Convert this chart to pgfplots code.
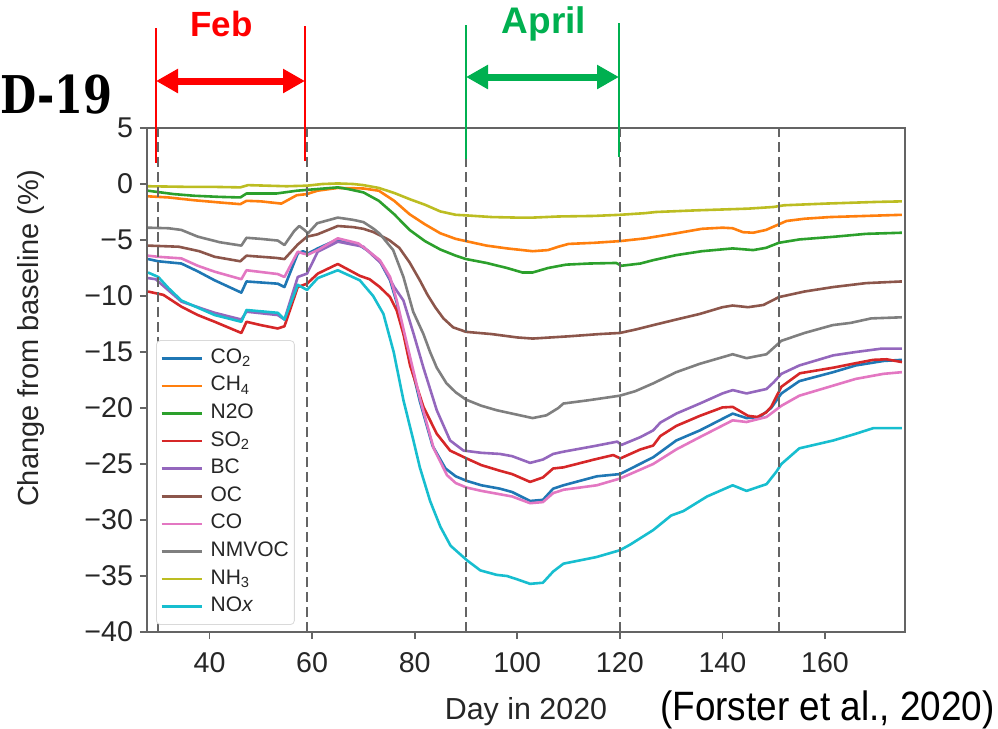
\documentclass[border=0pt]{standalone}
\usepackage{fontspec}
\setmainfont{Liberation Sans}
\newfontfamily\slabfont[FakeStretch=0.8]{DejaVu Serif}
\newfontfamily\narrowfont[FakeStretch=0.9]{Liberation Sans}
\usepackage{pgfplots}
\pgfplotsset{compat=1.18}
\usetikzlibrary{arrows.meta}

\definecolor{cCOtwo}{HTML}{1F77B4}
\definecolor{cCH}{HTML}{FF7F0E}
\definecolor{cNtwoO}{HTML}{2CA02C}
\definecolor{cSO}{HTML}{D62728}
\definecolor{cBC}{HTML}{9467BD}
\definecolor{cOC}{HTML}{8C564B}
\definecolor{cCO}{HTML}{E377C2}
\definecolor{cNMVOC}{HTML}{7F7F7F}
\definecolor{cNH}{HTML}{BCBD22}
\definecolor{cNOx}{HTML}{17BECF}
\definecolor{textgray}{RGB}{38,38,38}
\definecolor{framegray}{RGB}{100,100,100}
\definecolor{annred}{RGB}{255,0,0}
\definecolor{anngreen}{RGB}{0,176,80}

\begin{document}
\begin{tikzpicture}
\begin{axis}[
    at={(73.5pt,-316pt)}, anchor=south west,
    scale only axis, width=379pt, height=252pt,
    xmin=27.8, xmax=175.6, ymin=-40, ymax=5,
    xtick={40,60,...,160},
    ytick={-40,-35,...,5},
    yticklabels={−40,−35,−30,−25,−20,−15,−10,−5,0,5},
    xtick pos=bottom, ytick pos=left,
    tick align=outside, major tick length=3.5pt,
    tick style={framegray, line width=0.9pt},
    axis line style={framegray, line width=0.9pt},
    /pgf/number format/assume math mode=true,
    ticklabel style={font=\fontsize{14.3}{16}\selectfont, text=textgray},
    xticklabel style={yshift=-3pt},
    legend cell align=left,
    legend image code/.code={\draw[#1] (0pt,0pt) -- (20pt,0pt);},
    legend style={at={(0.0119,0.579)}, anchor=north west,
        draw=black!15, fill=white, rounded corners=2pt,
        font=\fontsize{10.5}{12}\selectfont, text=textgray,
        inner sep=2pt, row sep=0pt,
        nodes={inner sep=0.8pt, text height=8.6pt, text depth=3.6pt},
        /tikz/every odd column/.append style={column sep=3pt}},
    every axis plot/.append style={line width=1.3pt, line join=round}
]

% CO2
\addplot[cCOtwo] coordinates {
(28,-6.7) (30,-6.9) (34.5,-7.1) (37.7,-7.8) (41,-8.6) (46.2,-9.7) (47.2,-8.7)
(53.3,-8.9) (54.6,-9.2) (57.2,-6.2) (58.2,-6.0) (59.2,-6.2) (61.1,-5.75) (65,-4.94)
(69,-5.4) (71,-6.0) (73.2,-6.9) (75.2,-8.6) (76.5,-10.6) (78.3,-14.2) (81,-19.4)
(83.5,-23.4) (86,-25.4) (88,-26.1) (90.1,-26.5) (93,-26.9) (96.6,-27.2) (99,-27.5)
(102.5,-28.3) (105,-28.2) (107,-27.2) (109,-26.9) (115.5,-26.1) (120,-25.9)
(126.5,-24.4) (131,-22.9) (135.6,-22.0) (142,-20.5) (144.7,-20.9) (147.3,-20.8)
(149.5,-20.0) (151.5,-18.7) (155,-17.6) (161.6,-16.8) (166,-16.2) (171.4,-15.8) (175,-15.7)
};
\addlegendentry{CO\textsubscript{2}}

% CH4
\addplot[cCH] coordinates {
(28,-1.1) (32,-1.2) (37,-1.45) (42,-1.65) (46,-1.8) (47.2,-1.5) (50,-1.55)
(54,-1.75) (57,-1.0) (59,-0.9) (61,-0.6) (65,-0.35) (70,-0.4) (73,-0.6)
(76,-1.5) (79,-2.7) (82,-3.6) (85,-4.4) (88,-4.9) (90,-5.1) (94,-5.5) (98,-5.75)
(103,-6.0) (106,-5.9) (108,-5.6) (110,-5.35) (115,-5.25) (120,-5.1) (125,-4.85)
(127,-4.7) (131,-4.4) (136,-4.0) (140,-3.9) (142,-3.95) (144,-4.3) (146,-4.35)
(148.5,-4.1) (150,-3.8) (152.5,-3.3) (156,-3.1) (161,-2.95) (168,-2.85) (175,-2.75)
};
\addlegendentry{CH\textsubscript{4}}

% N2O
\addplot[cNtwoO] coordinates {
(28,-0.6) (33,-0.9) (37,-1.05) (42,-1.15) (46,-1.2) (47.2,-0.85) (53,-0.85)
(57,-0.6) (61,-0.45) (65,-0.3) (67,-0.45) (70,-0.75) (73,-1.5) (76,-2.7)
(79,-4.1) (82,-5.1) (85,-5.85) (88,-6.4) (90,-6.7) (94,-7.05) (98,-7.5)
(101,-7.9) (103,-7.9) (106,-7.5) (109.5,-7.2) (114,-7.1) (119.3,-7.05) (120.3,-7.3)
(124,-7.1) (126.5,-6.8) (131,-6.35) (136,-6.0) (142,-5.75) (146,-5.9) (148.5,-5.7)
(151,-5.25) (155,-4.95) (162,-4.7) (168,-4.45) (175,-4.35)
};
\addlegendentry{N2O}

% SO2
\addplot[cSO] coordinates {
(28,-9.6) (31,-9.9) (34.5,-10.95) (37.7,-11.7) (41,-12.3) (46.2,-13.3) (47.2,-12.3)
(50,-12.6) (53.3,-12.9) (54.6,-12.7) (57.2,-9.2) (59,-8.9) (61.1,-8.0) (65,-7.14)
(69.3,-8.2) (71.2,-8.5) (73.2,-9.2) (75.2,-10.1) (76.5,-11.3) (77.8,-13.4)
(79.1,-16.2) (81.7,-19.9) (84.3,-22.3) (86.9,-23.8) (90.1,-24.5) (93,-25.1)
(96.6,-25.6) (99,-25.9) (102.5,-26.6) (105,-26.2) (107,-25.4) (109,-25.3)
(115,-24.6) (118.7,-24.2) (120.1,-24.5) (124,-23.7) (126.5,-23.35) (127.9,-22.5)
(131,-21.6) (135.6,-20.7) (140,-19.95) (142,-19.9) (143.5,-20.3) (145,-20.7)
(146.8,-20.8) (148.5,-20.4) (149.5,-19.9) (151.5,-18.1) (155.1,-16.9) (161.6,-16.4)
(166,-16.0) (169.4,-15.7) (172,-15.65) (175,-15.9)
};
\addlegendentry{SO\textsubscript{2}}

% BC
\addplot[cBC] coordinates {
(28,-8.4) (29.5,-8.5) (32,-9.5) (34.5,-10.5) (41,-11.5) (46.2,-12.1) (47.2,-11.4)
(53.3,-11.7) (54.6,-12.1) (57.2,-8.3) (59,-8.0) (61.1,-6.04) (65,-5.15) (70,-5.6)
(73.5,-7.1) (76,-9.2) (77.8,-10.4) (79.8,-13.4) (81.7,-16.4) (84.3,-20.2)
(86.9,-22.9) (89.5,-23.8) (93,-24.0) (96.6,-24.1) (99,-24.3) (102.5,-24.9)
(105,-24.6) (107,-24.1) (109,-23.9) (115,-23.4) (119.5,-23.0) (120.3,-23.3)
(124,-22.6) (126.5,-22.0) (127.9,-21.3) (131,-20.5) (135.6,-19.6) (140,-18.7)
(142,-18.4) (144.7,-18.7) (148.6,-18.3) (150,-17.7) (151.5,-16.95) (155,-16.2)
(161.6,-15.3) (166,-15.0) (171,-14.7) (175,-14.7)
};
\addlegendentry{BC}

% OC
\addplot[cOC] coordinates {
(28,-5.5) (34,-5.6) (38,-6.0) (41,-6.5) (46,-6.9) (47.2,-6.4) (53,-6.6)
(54.6,-6.7) (57.2,-5.4) (59,-4.7) (61,-4.5) (65,-3.75) (68,-3.85) (70,-4.0)
(72,-4.3) (75,-5.0) (77,-5.7) (79,-7.0) (81,-8.6) (82.5,-9.9) (84,-11.0)
(85.6,-12.0) (87.5,-12.8) (90,-13.2) (95,-13.4) (100,-13.7) (103,-13.8)
(110,-13.6) (116,-13.4) (120,-13.3) (123,-13.0) (126.5,-12.6) (131,-12.1)
(135.6,-11.6) (140,-11.0) (142,-10.85) (145,-11.0) (148,-10.8) (151,-10.1)
(156,-9.6) (161.6,-9.2) (168,-8.85) (175,-8.7)
};
\addlegendentry{OC}

% CO
\addplot[cCO] coordinates {
(28,-6.4) (30,-6.5) (34.5,-6.64) (37.7,-7.3) (41,-7.83) (46.2,-8.5) (47.2,-7.7)
(53.3,-8.04) (54.6,-8.3) (57.2,-6.04) (58.2,-6.2) (59.2,-6.3) (61.1,-5.9) (65,-4.85)
(69,-5.3) (71,-6.0) (73.2,-6.8) (75.2,-8.3) (76.5,-10.4) (78.5,-14.3) (81.1,-19.3)
(83.7,-23.6) (86.3,-26.0) (88,-26.7) (90.1,-27.1) (93,-27.4) (96.6,-27.7) (99,-27.9)
(102.5,-28.5) (105,-28.4) (107,-27.6) (109,-27.3) (115.5,-26.9) (120,-26.3)
(126.5,-25.0) (131,-23.7) (135.6,-22.6) (142,-21.1) (144.7,-21.25) (148.6,-20.8)
(151.5,-19.8) (155,-18.9) (161.6,-18.0) (166,-17.4) (171.4,-16.95) (175,-16.8)
};
\addlegendentry{CO}

% NMVOC
\addplot[cNMVOC] coordinates {
(28,-3.9) (32,-3.95) (34.5,-4.1) (37.7,-4.7) (42,-5.2) (46.2,-5.5) (47.2,-4.8)
(50,-4.9) (53.3,-5.05) (54.6,-5.45) (56.5,-4.2) (57.5,-3.75) (58.5,-4.1) (59.2,-4.4)
(61,-3.5) (65,-3.0) (68,-3.2) (70,-3.4) (72,-4.0) (73.2,-4.45) (75.8,-5.9)
(77.8,-8.3) (79.7,-11.4) (81.7,-13.4) (83,-15.0) (84.3,-16.4) (86.2,-17.8)
(88,-18.6) (90,-19.25) (93,-19.8) (96,-20.2) (100,-20.6) (103,-20.9) (105.7,-20.65)
(108,-20.0) (109,-19.6) (114,-19.3) (120,-18.9) (123,-18.5) (126.5,-17.8)
(131,-16.8) (135.6,-16.05) (142,-15.2) (144.7,-15.55) (148.6,-15.2) (151.5,-14.0)
(156,-13.3) (161.5,-12.6) (165,-12.4) (169,-12.0) (175,-11.9)
};
\addlegendentry{NMVOC}

% NH3
\addplot[cNH] coordinates {
(28,-0.2) (35,-0.25) (40,-0.25) (46,-0.3) (47.5,-0.1) (55,-0.2) (59,-0.15)
(62,0.0) (65,0.05) (68,0.0) (70,-0.1) (73,-0.35) (76,-0.8) (79,-1.35) (82,-1.85)
(85,-2.45) (88,-2.75) (90,-2.8) (95,-2.95) (100,-3.0) (103,-3.0) (108,-2.9)
(115,-2.85) (120,-2.75) (125,-2.6) (127,-2.5) (135,-2.35) (145,-2.2) (150,-2.05)
(152,-1.9) (160,-1.75) (170,-1.6) (175,-1.55)
};
\addlegendentry{NH\textsubscript{3}}

% NOx
\addplot[cNOx] coordinates {
(28,-7.9) (30,-8.3) (32,-9.3) (34.5,-10.4) (41,-11.7) (46.2,-12.3) (47.2,-11.25)
(53.3,-11.5) (54.6,-12.1) (57.2,-9.0) (59,-9.46) (61.1,-8.4) (65,-7.7) (69.3,-8.6)
(71.9,-10.0) (73.9,-11.6) (75.9,-15.0) (77.8,-19.3) (79.8,-23.0) (81,-25.3)
(83,-28.3) (85,-30.6) (87,-32.3) (90.2,-33.6) (92.8,-34.5) (96,-34.9) (98,-35.0)
(100,-35.3) (102.5,-35.7) (105,-35.6) (107,-34.6) (109,-33.9) (115.5,-33.3)
(120,-32.7) (122,-32.2) (126.5,-30.9) (130,-29.6) (132.4,-29.2) (137,-27.9)
(142,-26.9) (144.7,-27.4) (148.6,-26.8) (150.5,-25.7) (151.5,-25.0) (155,-23.6)
(161.6,-22.9) (166,-22.3) (169.4,-21.8) (175,-21.8)
};
\addlegendentry{NO\textit{x}}

% month boundaries
\foreach \d in {30,59,90,120,151} {
  \edef\tmp{\noexpand\draw[framegray, line width=0.8pt, dash pattern=on 5pt off 2.5pt]
    (axis cs:\d,-40) -- (axis cs:\d,5);}
  \tmp
}
\end{axis}

\begin{scope}[x=0.5pt,y=-0.5pt]
\path[use as bounding box] (0,0) rectangle (998,729);

% axis labels
\node[rotate=90, anchor=base, text=textgray, font=\fontsize{14.5}{17}\selectfont, inner sep=0pt]
  at (38.5,338.5) {Change from baseline (\%)};
\node[anchor=base, text=textgray, font=\fontsize{15.2}{18}\selectfont, inner sep=0pt]
  at (526,719.3) {Day in 2020};
\node[anchor=base east, font=\narrowfont\fontsize{20.5}{24}\selectfont, inner sep=0pt]
  at (995,720) {(Forster et al., 2020)};
\node[anchor=base west, font=\slabfont\bfseries\fontsize{26}{30}\selectfont, inner sep=0pt]
  at (0,113) {D-19};

% Feb
\draw[annred, line width=1pt] (156,28) -- (156,163);
\draw[annred, line width=1pt] (305,26) -- (305,161);
\draw[annred, line width=3.5pt, {Triangle[length=11pt,width=11.5pt]}-{Triangle[length=11pt,width=11.5pt]}]
  (156,81) -- (305,81);
\node[anchor=base, text=annred, font=\bfseries\fontsize{17.5}{20}\selectfont, inner sep=0pt]
  at (221.5,36.5) {Feb};

% April
\draw[anngreen, line width=1pt] (466,25) -- (466,159);
\draw[anngreen, line width=1pt] (619,23) -- (619,157);
\draw[anngreen, line width=3.5pt, {Triangle[length=11pt,width=11.5pt]}-{Triangle[length=11pt,width=11.5pt]}]
  (466,77) -- (619,77);
\node[anchor=base, text=anngreen, font=\bfseries\fontsize{18.5}{21}\selectfont, inner sep=0pt]
  at (544,33.3) {April};
\end{scope}
\end{tikzpicture}
\end{document}
